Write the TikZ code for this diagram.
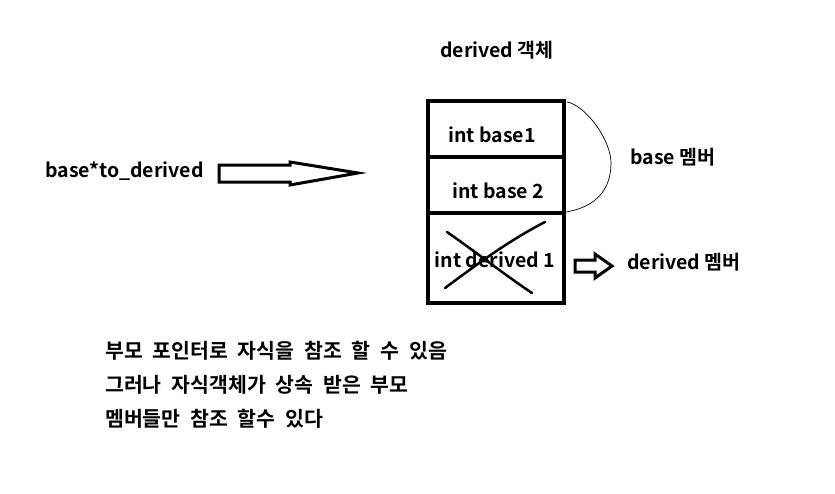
\documentclass[tikz,border=0pt]{standalone}
\usepackage{fontspec}
\setmainfont{Noto Sans CJK KR}[BoldFont={Noto Sans CJK KR Bold}]
\newcommand{\kspace}{\spaceskip=9.8pt\relax}
\begin{document}
\begin{tikzpicture}[x=1pt,y=-1pt,
  lbl/.style={font=\bfseries\fontsize{19.5}{22}\selectfont, inner sep=0pt},
  klbl/.style={font=\bfseries\fontsize{20.5}{24}\selectfont, inner sep=0pt, anchor=west},
  boxline/.style={line width=4pt},
  hollow/.style={line width=3pt, line join=miter, fill=white}]
\useasboundingbox[fill=white] (0,0) rectangle (835,493);
% title
\node[lbl] (title) at (497,50) {derived 객체};
\node[lbl, anchor=west] (ptr) at (45,171) {base*to\_derived};
% big hollow arrow
\draw[hollow] (219,165) -- (290,165) -- (290,162) -- (358,173) -- (290,185) -- (290,182) -- (219,182) -- cycle;
\coordinate (arrtip) at (358,173);
% box
\node[draw, boxline, minimum width=136pt, minimum height=56pt, inner sep=0pt] (b1) at (496,129) {};
\node[draw, boxline, minimum width=136pt, minimum height=56pt, inner sep=0pt] (b2) at (496,185) {};
\node[draw, boxline, minimum width=136pt, minimum height=90pt, inner sep=0pt] (d1) at (496,258) {};
\node[lbl] (t1) at (492,135) {int base1};
\node[lbl] (t2) at (498,191) {int base 2};
\node[lbl] (t3) at (495,260) {int derived 1};
% cross
\coordinate (c1a) at (447,232); \coordinate (c1b) at (532,293);
\coordinate (c2a) at (545,222); \coordinate (c2b) at (445,288);
\draw[line width=2.5pt, line cap=round] (c1a) .. controls (480,255) and (505,275) .. (c1b);
\draw[line width=2.5pt, line cap=round] (c2a) .. controls (510,240) and (480,262) .. (c2b);
% brace curve
\coordinate (br1) at (567,102); \coordinate (br2) at (566,212);
\draw[line width=0.7pt] (br1) .. controls (585,105) and (612,140) .. (611,165) .. controls (610,195) and (590,208) .. (br2);
\node[lbl, anchor=west] (basem) at (630,157) {base 멤버};
% small hollow arrow
\draw[line width=3pt, fill=white] (575,260) -- (595,260) -- (595,254) -- (612,266) -- (595,278) -- (595,272) -- (575,272) -- cycle;
\node[lbl, anchor=west] (derm) at (627,262) {derived 멤버};
% bottom text
\node[klbl] (l1) at (105,351) {\kspace 부모 포인터로 자식을 참조 할 수 있음};
\node[klbl] (l2) at (105,385) {\kspace 그러나 자식객체가 상속 받은 부모};
\node[klbl] (l3) at (105,419) {\kspace 멤버들만 참조 할수 있다};
\end{tikzpicture}
\end{document}
